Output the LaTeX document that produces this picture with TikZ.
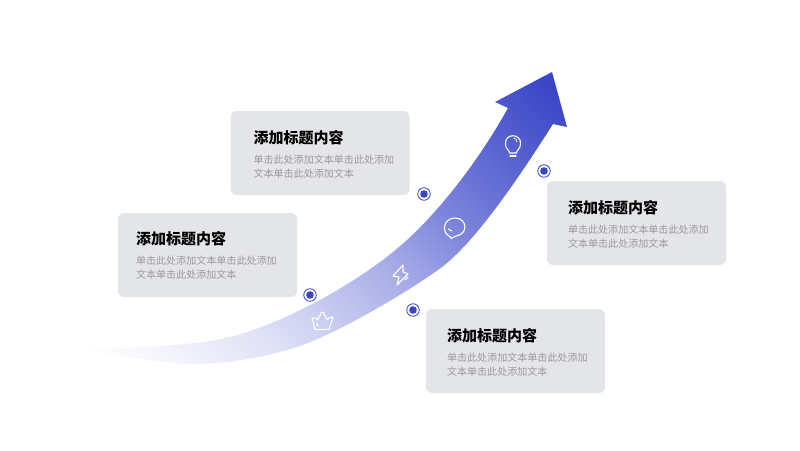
\documentclass[tikz,border=0pt]{standalone}
\usepackage{fontspec}
\usepackage{xcolor}
\setmainfont{Noto Sans CJK SC}
\usetikzlibrary{calc, positioning}
\definecolor{arrowblue}{HTML}{3A46C8}
\definecolor{cardgrey}{HTML}{E4E5E9}
\definecolor{bodygrey}{HTML}{9B9B9D}
\pgfdeclareverticalshading{arrowfade}{100bp}{
  color(0bp)=(white); color(16bp)=(white); color(24bp)=(arrowblue!6!white);
  color(34bp)=(arrowblue!16!white); color(40bp)=(arrowblue!25!white);
  color(52bp)=(arrowblue!45!white); color(61bp)=(arrowblue!65!white);
  color(73bp)=(arrowblue!85!white); color(83bp)=(arrowblue); color(100bp)=(arrowblue)}
\tikzset{
  card/.style={fill=cardgrey, rounded corners=6pt, minimum width=179pt, minimum height=84pt, inner sep=0pt},
  cardtitle/.style={inner sep=0pt, anchor=north west, font=\fontsize{15}{18}\selectfont\bfseries, text=black},
  cardbody/.style={inner sep=0pt, anchor=north west, align=left, font=\fontsize{10.05}{14.2}\selectfont, text=bodygrey},
  dotring/.style={circle, draw=arrowblue, fill=white, line width=0.8pt, inner sep=0pt, minimum size=12.5pt},
  dotcore/.style={circle, fill=arrowblue, inner sep=0pt, minimum size=7.6pt},
  iconline/.style={draw=white, line width=1.1pt, line cap=round, line join=round}
}
\newcommand{\bodytext}{单击此处添加文本单击此处添加\\文本单击此处添加文本}
\begin{document}
\begin{tikzpicture}[x=1pt, y=-1pt]
    \useasboundingbox (0, 0) rectangle (800, 450);
    % big arrow
    \coordinate (tip) at (552, 72);
    \coordinate (headL) at (495, 102);
    \coordinate (headR) at (567, 127);
    \coordinate (neckL) at (508, 108);
    \coordinate (neckR) at (553, 124);
    \coordinate (tail) at (75, 348);
    \begin{scope}
      \clip (tail) .. controls (120, 349) and (195, 346) .. (230, 337)
        .. controls (285, 323) and (362, 281) .. (407, 240)
        .. controls (445, 205) and (482, 155) .. (neckL) -- (headL) -- (tip) -- (headR) -- (neckR)
        .. controls (528, 163) and (480, 238) .. (442, 267)
        .. controls (417, 286) and (340, 333) .. (297, 347)
        .. controls (267, 356.5) and (230, 364) .. (193, 364)
        .. controls (160, 364) and (110, 353) .. (tail) -- cycle;
      \shade[shading=arrowfade, shading angle=-45] (75, 72) rectangle (567, 365);
    \end{scope}
    % text cards
    \node[card] (cardA) at (320, 153) {};
    \node[card] (cardB) at (207.5, 255) {};
    \node[card] (cardC) at (636.5, 223) {};
    \node[card] (cardD) at (515.5, 351) {};
    \foreach \c/\dx/\dy in {cardA/23/19, cardB/18/18, cardC/21/19, cardD/21/19} {
      \node[cardtitle] (\c title) at ($(\c.north west)+(\dx, \dy)$) {添加标题内容};
      \node[cardbody, below=10pt of \c title.south west, anchor=north west] (\c body) {\bodytext};
    }
    % dots
    \foreach \n/\x/\y in {dotA/424/194, dotB/310/295, dotC/544/171, dotD/413/310} {
      \node[dotring] (\n) at (\x, \y) {};
      \node[dotcore] (\n core) at (\n) {};
    }
    % crown
    \draw[iconline] (312, 318) .. controls (315, 317) and (317, 318) .. (318, 320) .. controls (319, 316) and (320, 315) .. (320.5, 315)
      .. controls (320, 311) and (325, 311) .. (324, 315) .. controls (325, 315) and (326, 317) .. (327, 320)
      .. controls (328, 318) and (330, 317) .. (333, 317) -- (329, 329.5) -- (315, 329.5) -- cycle;
    \draw[iconline] (317, 323) -- (317.5, 326);
    % bolt
    \draw[iconline] (403, 265) -- (393, 276) -- (399, 277) -- (397, 285) -- (408, 274) -- (403, 272) -- cycle;
    \draw[iconline] (405, 280) -- (408, 277);
    % chat bubble
    \draw[iconline] (451, 238.5) -- (450.5, 237) .. controls (440, 232) and (444, 218) .. (455, 218)
      .. controls (467, 218) and (469, 234) .. (456, 236) .. controls (455, 236) and (453, 238) .. (451, 238.5) -- cycle;
    \draw[iconline] (448.5, 229) -- (451.5, 231);
    % bulb
    \draw[iconline] (509.5, 153) .. controls (509.5, 150) and (505.5, 149) .. (505.5, 144)
      .. controls (504.5, 133) and (521.5, 133) .. (520.5, 144) .. controls (520.5, 149) and (516.5, 150) .. (516.5, 153) -- cycle;
    \draw[iconline] (510, 156) -- (516, 156);
    \draw[iconline, line width=0.8pt] (513.5, 138) .. controls (515.5, 138) and (517, 140) .. (517, 142);
  \end{tikzpicture}
\end{document}
